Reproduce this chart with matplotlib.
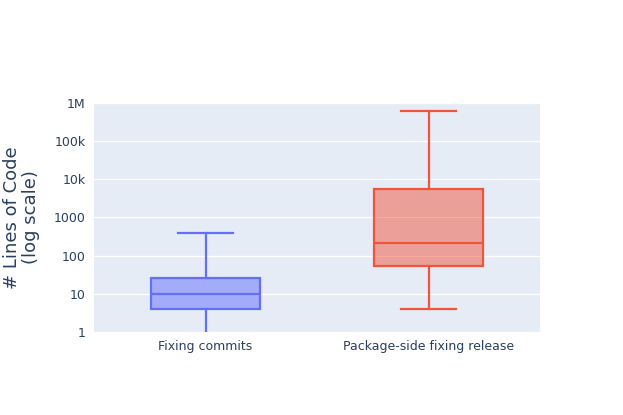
import matplotlib
matplotlib.use("Agg")
import matplotlib.pyplot as plt
from matplotlib.ticker import FixedLocator, FixedFormatter, NullLocator

# box statistics
categories = ["Fixing commits", "Package-side fixing release"]
lower_whisker = [0.9, 4]
q1 = [3.9, 54]
median = [10.2, 216]
q3 = [26, 5700]
upper_whisker = [400, 600000]

colors = ["#636EFA", "#EF553B"]
tick_values = [1, 10, 100, 1000, 1e4, 1e5, 1e6]
tick_labels = ["1", "10", "100", "1000", "10k", "100k", "1M"]

fig = plt.figure(figsize=(6.23, 4.15), dpi=100)
ax = fig.add_axes([94 / 623, 83 / 415, 446 / 623, 229 / 415])
ax.set_facecolor("#E5ECF6")

for i, name in enumerate(categories):
    stats = [{
        "whislo": lower_whisker[i], "q1": q1[i], "med": median[i],
        "q3": q3[i], "whishi": upper_whisker[i], "fliers": [], "label": name,
    }]
    c = colors[i]
    ax.bxp(
        stats, positions=[i], widths=0.49, patch_artist=True, showfliers=False,
        boxprops=dict(facecolor=c + "80", edgecolor=c, linewidth=1.6),
        medianprops=dict(color=c, linewidth=1.6),
        whiskerprops=dict(color=c, linewidth=1.6),
        capprops=dict(color=c, linewidth=1.6),
        capwidths=0.245, zorder=3,
    )

ax.set_yscale("log")
ax.set_ylim(1, 1e6)
ax.set_xlim(-0.5, 1.5)
ax.yaxis.set_major_locator(FixedLocator(tick_values))
ax.yaxis.set_major_formatter(FixedFormatter(tick_labels))
ax.yaxis.set_minor_locator(NullLocator())
ax.set_xticks([0, 1])
ax.set_xticklabels(categories)
ax.grid(axis="y", color="white", linewidth=1.0, zorder=0)
ax.set_axisbelow(True)
ax.tick_params(length=0, colors="#2a3f5f", labelsize=9, pad=6)
for s in ax.spines.values():
    s.set_visible(False)

ax.set_ylabel("# Lines of Code\n(log scale)", fontsize=13, color="#2a3f5f",
              labelpad=10, linespacing=1.1)

fig.savefig("out.png", dpi=100)
